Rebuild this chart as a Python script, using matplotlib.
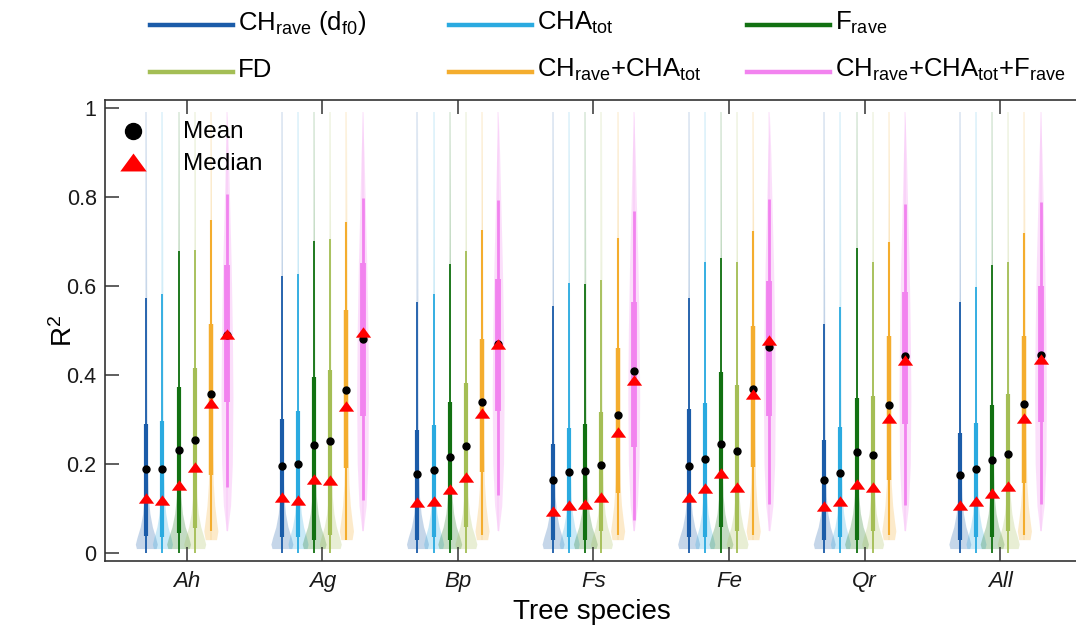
import numpy as np
import matplotlib
matplotlib.use('Agg')
import matplotlib.pyplot as plt
from matplotlib import font_manager
from matplotlib.lines import Line2D

# Species (groups) and the six model variants drawn in every group
SPECIES = ['Ah', 'Ag', 'Bp', 'Fs', 'Fe', 'Qr', 'All']
MODELS = [r'CH$_{\rm rave}$ (d$_{\rm f0}$)', r'CHA$_{\rm tot}$', r'F$_{\rm rave}$',
          'FD', r'CH$_{\rm rave}$+CHA$_{\rm tot}$',
          r'CH$_{\rm rave}$+CHA$_{\rm tot}$+F$_{\rm rave}$']
COLORS = ['#1b5ca9', '#2aaae0', '#127112', '#a4be55', '#f4ad2e', '#f283ef']

# R2 summaries, one list per model, values per species
MEAN_CH = [0.188, 0.195, 0.177, 0.165, 0.195, 0.165, 0.175]
MEAN_CHA = [0.188, 0.200, 0.186, 0.182, 0.211, 0.180, 0.188]
MEAN_F = [0.231, 0.242, 0.215, 0.184, 0.246, 0.227, 0.210]
MEAN_FD = [0.253, 0.251, 0.240, 0.198, 0.229, 0.220, 0.223]
MEAN_CH_CHA = [0.357, 0.367, 0.339, 0.311, 0.368, 0.332, 0.334]
MEAN_ALL3 = [0.491, 0.482, 0.470, 0.410, 0.462, 0.442, 0.444]

MEDIAN_CH = [0.123, 0.126, 0.115, 0.095, 0.125, 0.105, 0.109]
MEDIAN_CHA = [0.119, 0.119, 0.118, 0.108, 0.146, 0.117, 0.117]
MEDIAN_F = [0.152, 0.166, 0.143, 0.110, 0.179, 0.154, 0.135]
MEDIAN_FD = [0.193, 0.164, 0.171, 0.125, 0.148, 0.148, 0.150]
MEDIAN_CH_CHA = [0.336, 0.330, 0.315, 0.271, 0.358, 0.303, 0.303]
MEDIAN_ALL3 = [0.493, 0.496, 0.470, 0.388, 0.479, 0.433, 0.437]

Q1_CH = [0.038, 0.036, 0.030, 0.030, 0.036, 0.030, 0.030]
Q1_CHA = [0.035, 0.036, 0.035, 0.035, 0.035, 0.035, 0.035]
Q1_F = [0.045, 0.030, 0.030, 0.030, 0.058, 0.030, 0.035]
Q1_FD = [0.056, 0.040, 0.058, 0.050, 0.050, 0.050, 0.050]
Q1_CH_CHA = [0.175, 0.190, 0.182, 0.134, 0.194, 0.164, 0.157]
Q1_ALL3 = [0.339, 0.309, 0.320, 0.238, 0.309, 0.291, 0.294]

Q3_CH = [0.289, 0.302, 0.276, 0.246, 0.324, 0.253, 0.270]
Q3_CHA = [0.296, 0.320, 0.287, 0.282, 0.337, 0.283, 0.292]
Q3_F = [0.372, 0.395, 0.339, 0.289, 0.406, 0.349, 0.332]
Q3_FD = [0.415, 0.412, 0.382, 0.317, 0.378, 0.352, 0.358]
Q3_CH_CHA = [0.515, 0.545, 0.482, 0.460, 0.510, 0.487, 0.487]
Q3_ALL3 = [0.648, 0.652, 0.616, 0.563, 0.611, 0.587, 0.601]

LOW_CH = [0.0, 0.0, 0.0, 0.0, 0.0, 0.0, 0.0]
LOW_CHA = [0.0, 0.0, 0.0, 0.0, 0.0, 0.0, 0.0]
LOW_F = [0.0, 0.0, 0.0, 0.0, 0.0, 0.0, 0.0]
LOW_FD = [0.0, 0.0, 0.0, 0.0, 0.0, 0.0, 0.0]
LOW_CH_CHA = [0.050, 0.030, 0.040, 0.040, 0.040, 0.040, 0.040]
LOW_ALL3 = [0.148, 0.119, 0.130, 0.074, 0.111, 0.107, 0.111]

HIGH_CH = [0.574, 0.623, 0.563, 0.556, 0.573, 0.515, 0.563]
HIGH_CHA = [0.583, 0.626, 0.582, 0.606, 0.653, 0.553, 0.597]
HIGH_F = [0.679, 0.702, 0.650, 0.604, 0.662, 0.685, 0.648]
HIGH_FD = [0.682, 0.705, 0.679, 0.614, 0.653, 0.653, 0.653]
HIGH_CH_CHA = [0.749, 0.744, 0.726, 0.707, 0.724, 0.698, 0.720]
HIGH_ALL3 = [0.807, 0.798, 0.793, 0.769, 0.795, 0.784, 0.789]

# range of the faint violin bodies
VIOLIN_MIN = [0.01, 0.01, 0.01, 0.01, 0.03, 0.05]
VIOLIN_MAX = [0.99, 0.99, 0.99, 0.99, 0.99, 0.99]

MEANS = [MEAN_CH, MEAN_CHA, MEAN_F, MEAN_FD, MEAN_CH_CHA, MEAN_ALL3]
MEDIANS = [MEDIAN_CH, MEDIAN_CHA, MEDIAN_F, MEDIAN_FD, MEDIAN_CH_CHA, MEDIAN_ALL3]
Q1S = [Q1_CH, Q1_CHA, Q1_F, Q1_FD, Q1_CH_CHA, Q1_ALL3]
Q3S = [Q3_CH, Q3_CHA, Q3_F, Q3_FD, Q3_CH_CHA, Q3_ALL3]
LOWS = [LOW_CH, LOW_CHA, LOW_F, LOW_FD, LOW_CH_CHA, LOW_ALL3]
HIGHS = [HIGH_CH, HIGH_CHA, HIGH_F, HIGH_FD, HIGH_CH_CHA, HIGH_ALL3]

# violin outline: fraction of the way from min to max, and relative half width
SHAPE_LOW_T = [0.0, 0.01, 0.025, 0.05, 0.08, 0.12, 0.2, 0.36, 0.6, 1.0]
SHAPE_LOW_W = [0.9, 1.0, 0.85, 0.55, 0.33, 0.18, 0.09, 0.05, 0.03, 0.0]
SHAPE_MID_T = [0.0, 0.02, 0.045, 0.08, 0.13, 0.24, 0.45, 0.7, 1.0]
SHAPE_MID_W = [0.8, 1.0, 0.8, 0.55, 0.35, 0.2, 0.12, 0.06, 0.0]
SHAPE_TOP_T = [0.0, 0.06, 0.16, 0.32, 0.48, 0.64, 0.78, 0.9, 1.0]
SHAPE_TOP_W = [0.1, 0.6, 0.9, 1.0, 0.9, 0.7, 0.45, 0.25, 0.0]
SHAPES = [(SHAPE_LOW_T, SHAPE_LOW_W)] * 4 + [(SHAPE_MID_T, SHAPE_MID_W),
                                               (SHAPE_TOP_T, SHAPE_TOP_W)]
HALF_WIDTH = [0.081, 0.074, 0.088, 0.081, 0.052, 0.044]

OFFSET = 0.119
THICK_LW = [3.0, 3.0, 3.0, 3.0, 3.2, 4.2]
THIN_LW = [1.3, 1.3, 1.3, 1.3, 1.5, 2.0]

# flat triangle used for the medians (wider than tall, like the original)
TRI = [(-1.0, -0.68), (1.0, -0.68), (0.0, 0.68), (-1.0, -0.68)]


def pick_font(name, fallback):
    try:
        font_manager.findfont(name, fallback_to_default=False)
        return name
    except ValueError:
        return fallback


BASE_FONT = pick_font('Liberation Sans', 'DejaVu Sans')

plt.rcParams['font.family'] = [BASE_FONT, 'DejaVu Sans']
plt.rcParams['mathtext.fontset'] = 'custom'
plt.rcParams['mathtext.rm'] = BASE_FONT
plt.rcParams['mathtext.it'] = BASE_FONT + ':italic'


# Draw one model variant across all species
def draw_model(ax, k):
    color = COLORS[k]
    xs = np.arange(1, len(SPECIES) + 1) + (k - 2.5) * OFFSET
    t, w = SHAPES[k]
    ys = VIOLIN_MIN[k] + np.array(t) * (VIOLIN_MAX[k] - VIOLIN_MIN[k])
    hw = np.array(w) * HALF_WIDTH[k]
    for i, x in enumerate(xs):
        ax.fill_betweenx(ys, x - hw, x + hw, color=color, alpha=0.25, lw=0, zorder=1)
        ax.plot([x, x], [VIOLIN_MIN[k], VIOLIN_MAX[k]], color=color, lw=1.2,
                alpha=0.15, solid_capstyle='butt', zorder=2)
        ax.plot([x, x], [LOWS[k][i], HIGHS[k][i]], color=color, lw=THIN_LW[k],
                solid_capstyle='butt', zorder=3)
        ax.plot([x, x], [Q1S[k][i], Q3S[k][i]], color=color, lw=THICK_LW[k],
                solid_capstyle='butt', zorder=4)
    ax.plot(xs, MEANS[k], 'o', color='black', ms=5, zorder=5)
    ax.plot(xs, MEDIANS[k], ls='none', marker=TRI, color='red', ms=11, mec='none', zorder=6)


fig = plt.figure(figsize=(10.76, 6.34), dpi=100)
ax = fig.add_axes([0.0976, 0.1151, 0.9044, 0.7272])

for k in range(len(MODELS)):
    draw_model(ax, k)

ax.set_xlim(0.398, 7.575)
ax.set_ylim(-0.018, 1.018)
ax.set_xticks(np.arange(1, len(SPECIES) + 1))
ax.set_xticklabels(SPECIES, fontstyle='italic', fontsize=16)
ax.set_yticks([0, 0.2, 0.4, 0.6, 0.8, 1.0])
ax.set_yticklabels(['0', '0.2', '0.4', '0.6', '0.8', '1'], fontsize=15.5)
ax.tick_params(axis='both', direction='in', length=10, width=1.1, color='#333333',
               labelcolor='#1a1a1a')
ax.tick_params(axis='x', top=True, pad=7)
ax.tick_params(axis='y', pad=6)
for side in ['left', 'bottom', 'top']:
    ax.spines[side].set_color('#333333')
    ax.spines[side].set_linewidth(1.2)
ax.spines['right'].set_visible(False)

ax.set_xlabel('Tree species', fontsize=20)
ax.xaxis.set_label_coords(0.5, -0.083)
ax.set_ylabel(r'R$^2$', fontsize=20)
ax.yaxis.set_label_coords(-0.028, 0.5)

W, H = 1076.0, 634.0

# Mean / median key inside the axes
fig.add_artist(Line2D([133 / W], [1 - 131 / H], ls='none', marker='o', color='black',
                      ms=11.5, transform=fig.transFigure))
fig.add_artist(Line2D([133 / W], [1 - 162 / H], ls='none', marker=TRI, color='red',
                      ms=19, mec='none', transform=fig.transFigure))
fig.text(183 / W, 1 - 132 / H, 'Mean', fontsize=17.5, va='center', ha='left')
fig.text(183 / W, 1 - 164 / H, 'Median', fontsize=17.5, va='center', ha='left')

# Model key above the axes, laid out row by row
KEY_X = [150, 449, 747]
KEY_Y = [25, 72]
for k, label in enumerate(MODELS):
    row, col = divmod(k, 3)
    x0 = KEY_X[col]
    y = 1 - KEY_Y[row] / H
    fig.add_artist(Line2D([x0 / W, (x0 + 83) / W], [y, y], color=COLORS[k], lw=3.2,
                          transform=fig.transFigure))
    fig.text((x0 + 88) / W, y + 2 / H, label, fontsize=18.5, va='center', ha='left')

fig.savefig('out.png', dpi=100)
